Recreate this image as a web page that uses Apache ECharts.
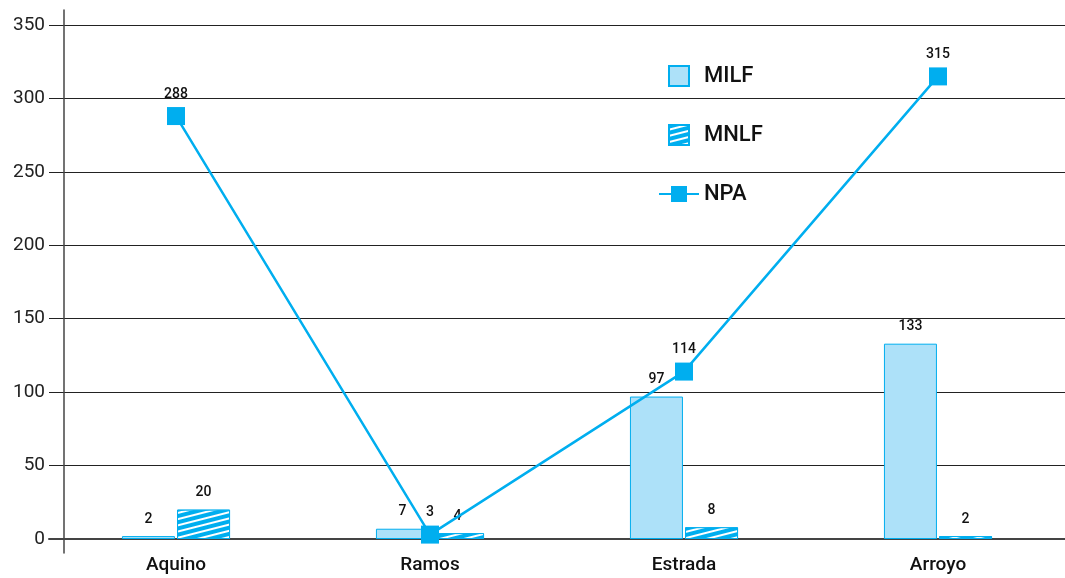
<!DOCTYPE html>
<html>
<head>
<meta charset="utf-8">
<script src="https://cdn.jsdelivr.net/npm/echarts@6/dist/echarts.min.js"></script>
<style>
html,body{margin:0;padding:0;background:#fff;}
#chart{width:1065px;height:578px;}
</style>
</head>
<body>
<div id="chart"></div>
<script>
var categories = ['Aquino', 'Ramos', 'Estrada', 'Arroyo'];
var milfValues = [2, 7, 97, 133];
var mnlfValues = [20, 4, 8, 2];
var npaValues = [288, 3, 114, 315];
var yTicks = [0, 50, 100, 150, 200, 250, 300, 350];

var BLUE = '#00AEEF';
var LIGHT = '#ADE1F9';
var FONT = 'Roboto, "Noto Sans", sans-serif';

var chart = echarts.init(document.getElementById('chart'), null, {renderer: 'canvas'});
var labelStyle = {show: true, position: 'top', distance: 10, color: '#111', fontSize: 14, fontFamily: FONT, fontWeight: 500};

chart.setOption({
  animation: false,
  backgroundColor: '#fff',
  grid: [
    {left: 49, right: 0, top: 25, bottom: 39},
    {left: 64, right: 0, top: 10, bottom: 25}
  ],
  legend: {
    orient: 'vertical',
    left: 653,
    top: 60,
    itemGap: 37,
    itemWidth: 40,
    itemHeight: 20,
    textStyle: {fontSize: 22, lineHeight: 20, color: '#111', fontFamily: FONT, fontWeight: 500},
    data: [
      {name: 'MILF', icon: 'path://M0,0H10V10H0Z'},
      {name: 'MNLF', icon: 'path://M0,0H10V10H0Z'},
      {name: 'NPA'}
    ]
  },
  xAxis: [
    {
      type: 'category',
      gridIndex: 0,
      data: categories,
      axisLine: {show: true, lineStyle: {color: '#444', width: 2}},
      axisTick: {show: false},
      axisLabel: {fontSize: 19, color: '#111', fontFamily: FONT, fontWeight: 500, margin: 17}
    },
    {type: 'value', gridIndex: 1, show: false, min: 0, max: 1}
  ],
  yAxis: [
    {
      type: 'value',
      gridIndex: 0,
      min: yTicks[0],
      max: yTicks[yTicks.length - 1],
      interval: 50,
      axisLine: {show: false},
      axisTick: {show: false},
      axisLabel: {fontSize: 19, color: '#222', fontFamily: FONT, margin: 4},
      splitLine: {show: true, lineStyle: {color: '#222', width: 1.2}}
    },
    {
      type: 'value',
      gridIndex: 1,
      min: 0,
      max: 1,
      axisLine: {show: true, lineStyle: {color: '#444', width: 1.5}},
      axisTick: {show: false},
      axisLabel: {show: false},
      splitLine: {show: false}
    }
  ],
  series: [
    {
      name: 'MILF',
      type: 'bar',
      data: milfValues,
      barWidth: 53,
      barGap: '4%',
      itemStyle: {color: LIGHT, borderColor: BLUE, borderWidth: 1},
      label: labelStyle
    },
    {
      name: 'MNLF',
      type: 'bar',
      data: mnlfValues,
      barWidth: 53,
      barGap: '4%',
      itemStyle: {
        color: BLUE,
        borderColor: BLUE,
        borderWidth: 1,
        decal: {
          symbol: 'rect',
          symbolSize: 1,
          color: '#ffffff',
          dashArrayX: [1, 0],
          dashArrayY: [1.5, 4],
          rotation: -0.25
        }
      },
      label: labelStyle
    },
    {
      name: 'NPA',
      type: 'line',
      data: npaValues,
      symbol: 'rect',
      symbolSize: 18,
      z: 5,
      lineStyle: {color: BLUE, width: 2.5},
      itemStyle: {color: BLUE},
      label: {show: true, position: 'top', distance: 6, color: '#111', fontSize: 14, fontFamily: FONT, fontWeight: 500}
    }
  ]
});
</script>
</body>
</html>
